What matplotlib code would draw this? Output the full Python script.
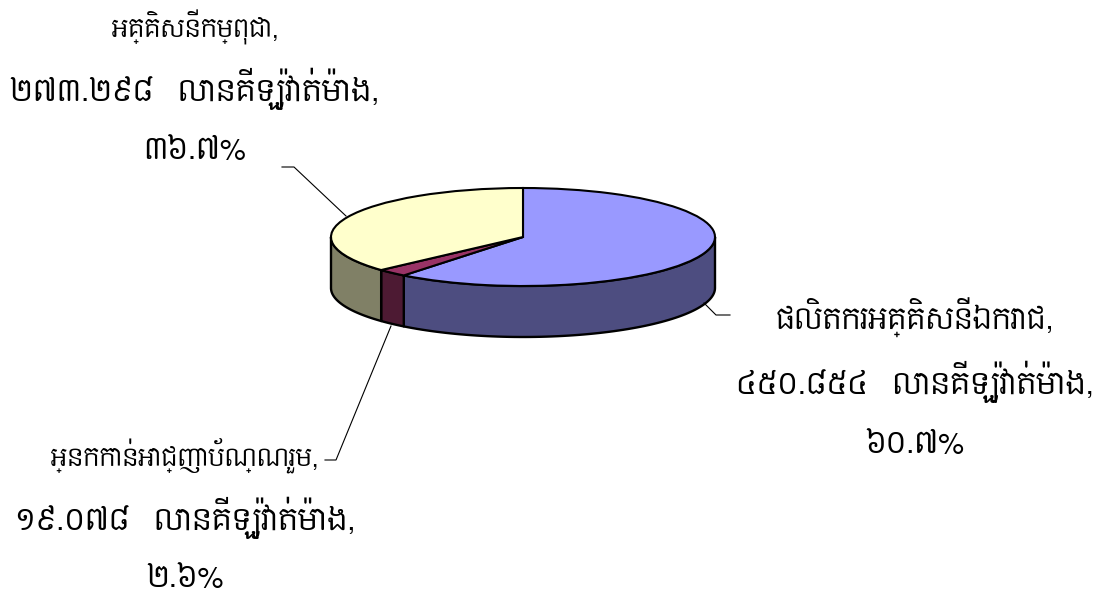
"""Camembert 3D : production d'electricite par source (Cambodge)"""

import numpy as np
import matplotlib
matplotlib.use('Agg')
import matplotlib.pyplot as plt
from matplotlib.patches import Wedge, Polygon

noms = ['ផលិតករអគ្គិសនីឯករាជ,', 'អ្នកកាន់អាជ្ញាប័ណ្ណរួម,', 'អគ្គិសនីកម្ពុជា,']
valeurs = [450.854, 19.078, 273.298]
valeurs_txt = ['៤៥០.៨៥៤   លានគីឡូវ៉ាត់ម៉ោង,', '១៩.០៧៨   លានគីឡូវ៉ាត់ម៉ោង,', '២៧៣.២៩៨   លានគីឡូវ៉ាត់ម៉ោង,']
pourcents_txt = ['៦០.៧%', '២.៦%', '៣៦.៧%']
couleurs_dessus = ['#9999FF', '#993366', '#FFFFCC']
couleurs_cote = ['#4D4D80', '#4D1A33', '#808066']

W, H = 1097, 594
# position du disque superieur en pixels
X_MIN, X_MAX, Y_TOP, Y_BOT = 331, 715, 188, 286
EPAISSEUR = 51 / 49

plt.rcParams['font.family'] = ['Content', 'Noto Sans Khmer', 'DejaVu Sans']

fig = plt.figure(figsize=(W / 100, H / 100), dpi=100)
ax = fig.add_axes([X_MIN / W, 1 - Y_BOT / H, (X_MAX - X_MIN) / W, (Y_BOT - Y_TOP) / H])
ax.set_xlim(-1, 1)
ax.set_ylim(-1, 1)
ax.axis('off')

# angles matplotlib, depart a midi, sens horaire
fractions = np.array(valeurs) / sum(valeurs)
bornes = 90 - 360 * np.concatenate([[0], np.cumsum(fractions)])

# flanc visible (moitie basse uniquement)
for i in range(len(valeurs)):
    debut = max(bornes[i + 1], -180)
    fin = min(bornes[i], 0)
    if debut >= fin:
        continue
    a = np.radians(np.linspace(debut, fin, 80))
    x, y = np.cos(a), np.sin(a)
    pts = np.r_[np.c_[x, y], np.c_[x, y - EPAISSEUR][::-1]]
    ax.add_patch(Polygon(pts, closed=True, fc=couleurs_cote[i], ec='black', lw=1.7,
                         clip_on=False, joinstyle='round'))

# disque superieur
for i in range(len(valeurs)):
    ax.add_patch(Wedge((0, 0), 1, bornes[i + 1], bornes[i], fc=couleurs_dessus[i],
                       ec='black', lw=1.5, clip_on=False))

# traits de rappel, en pixels
rappels = [[(730, 315), (716, 315), (704, 303)],
           [(325, 460), (336, 460), (391, 326)],
           [(282, 167), (294, 167), (346, 216)]]
for r in rappels:
    xs = [p[0] for p in r]
    ys = [p[1] for p in r]
    fig.add_artist(plt.Line2D([v / W for v in xs], [1 - v / H for v in ys], color='black', lw=0.8))

# etiquettes : centre x, y des 3 lignes, taille de la 1re ligne
# (pas d'empilement des sous-consonnes ici, donc 1re ligne plus petite pour garder la largeur)
places = [(915, [318, 382, 445], 20), (185, [455, 518, 579], 17), (195, [27, 89, 151], 17)]
for i, (cx, ys, taille) in enumerate(places):
    lignes = [noms[i], valeurs_txt[i], pourcents_txt[i]]
    tailles = [taille, 21, 21]
    for y, t, s in zip(ys, lignes, tailles):
        fig.text(cx / W, 1 - y / H, t, ha='center', va='center', fontsize=s, color='black')

plt.savefig('out.png', dpi=100)
plt.close()
